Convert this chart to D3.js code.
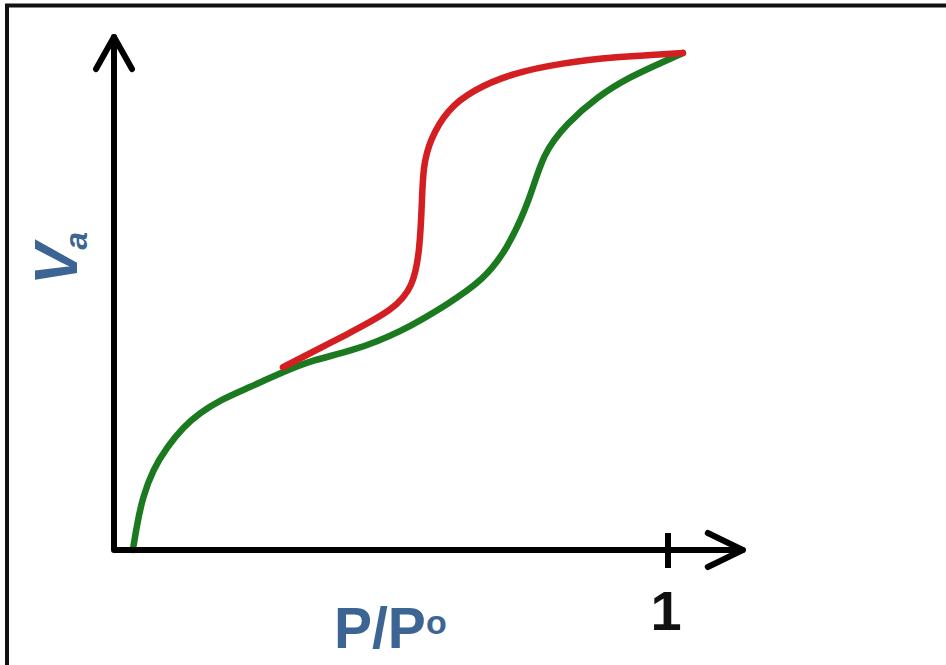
<!doctype html>
<html>
    <head>
        <meta charset="utf-8">
        <title>isotherm hysteresis</title>
        <script src="https://d3js.org/d3.v7.min.js"></script>
        <style type="text/css">
            body { margin:0; background:#fff; }
            text { font-family:"Liberation Sans", Arial, sans-serif; font-weight:bold; }
        </style>
    </head>
    <body>
        <svg></svg>
        <script type="text/javascript">

            var w = 946,
                h = 665;

            // adsorption branch (green), relative pressure vs adsorbed volume
            var adsX = [0.034, 0.042, 0.052, 0.070, 0.096, 0.125, 0.155, 0.191, 0.245, 0.300, 0.359, 0.426, 0.516, 0.606, 0.666, 0.709, 0.751, 0.774, 0.818, 0.872, 0.931, 0.991, 1.027];
            var adsY = [0, 0.054, 0.106, 0.161, 0.207, 0.247, 0.275, 0.301, 0.327, 0.355, 0.382, 0.398, 0.436, 0.496, 0.542, 0.602, 0.703, 0.797, 0.857, 0.910, 0.950, 0.980, 0.998];

            // desorption branch (red)
            var desX = [0.305, 0.426, 0.504, 0.540, 0.552, 0.556, 0.558, 0.570, 0.601, 0.648, 0.720, 0.810, 0.901, 1.027];
            var desY = [0.367, 0.436, 0.482, 0.528, 0.602, 0.703, 0.769, 0.823, 0.884, 0.924, 0.958, 0.978, 0.990, 0.998];

            var tickValues = [1];
            var tickLabels = ['1'];

            var x = d3.scaleLinear().domain([0, 1]).range([114, 668]);
            var y = d3.scaleLinear().domain([0, 1]).range([550, 52]);

            var svg = d3.select('svg')
                .attr('width', w)
                .attr('height', h);

            // frame (top and left edges only)
            svg.append('path')
                .attr('d', 'M7,' + h + ' L7,5.5 L' + w + ',5.5')
                .attr('fill', 'none')
                .attr('stroke', '#111')
                .attr('stroke-width', 4);

            var line = d3.line()
                .x(function(d) { return x(d[0]); })
                .y(function(d) { return y(d[1]); })
                .curve(d3.curveBasis);

            svg.append('path')
                .datum(d3.zip(adsX, adsY))
                .attr('d', line)
                .attr('fill', 'none')
                .attr('stroke', '#1b7a1f')
                .attr('stroke-width', 6.5)
                .attr('stroke-linecap', 'round');

            svg.append('path')
                .datum(d3.zip(desX, desY))
                .attr('d', line)
                .attr('fill', 'none')
                .attr('stroke', '#d41f22')
                .attr('stroke-width', 6.5)
                .attr('stroke-linecap', 'round');

            // axes
            var x0 = x(0), y0 = y(0),
                xEnd = x(1.135), yEnd = y(1.03);

            var axes = svg.append('g')
                .attr('fill', 'none')
                .attr('stroke', '#000')
                .attr('stroke-width', 6)
                .attr('stroke-linecap', 'round')
                .attr('stroke-linejoin', 'round');

            axes.append('path')
                .attr('d', 'M' + x0 + ',' + yEnd + ' L' + x0 + ',' + y0 + ' L' + xEnd + ',' + y0);

            axes.append('path')
                .attr('d', 'M' + (x0 - 18) + ',' + (yEnd + 32) + ' L' + x0 + ',' + yEnd + ' L' + (x0 + 18) + ',' + (yEnd + 32));

            axes.append('path')
                .attr('d', 'M' + (xEnd - 35) + ',' + (y0 - 17) + ' L' + xEnd + ',' + y0 + ' L' + (xEnd - 35) + ',' + (y0 + 17));

            axes.selectAll('line.tick')
                .data(tickValues)
                .enter()
                .append('line')
                .attr('class', 'tick')
                .attr('stroke-linecap', 'butt')
                .attr('x1', function(d) { return x(d); })
                .attr('x2', function(d) { return x(d); })
                .attr('y1', y0 - 17)
                .attr('y2', y0 + 18);

            svg.selectAll('text.ticklabel')
                .data(tickValues)
                .enter()
                .append('text')
                .attr('class', 'ticklabel')
                .attr('x', function(d) { return x(d) - 2; })
                .attr('y', 630)
                .attr('text-anchor', 'middle')
                .attr('font-size', 56)
                .attr('fill', '#111')
                .text(function(d, i) { return tickLabels[i]; });

            // axis titles
            var xt = svg.append('text')
                .attr('x', 334)
                .attr('y', 648)
                .attr('font-size', 57)
                .attr('fill', '#3d6594');
            xt.append('tspan').text('P/P');
            xt.append('tspan')
                .attr('font-size', 34)
                .attr('dy', -14)
                .text('o');

            var yt = svg.append('text')
                .attr('transform', 'translate(77,285) rotate(-90)')
                .attr('font-size', 62)
                .attr('font-style', 'italic')
                .attr('fill', '#3d6594');
            yt.append('tspan').text('V');
            yt.append('tspan')
                .attr('font-size', 32)
                .attr('dx', -6)
                .attr('dy', 10)
                .text('a');
        </script>
    </body>
</html>
